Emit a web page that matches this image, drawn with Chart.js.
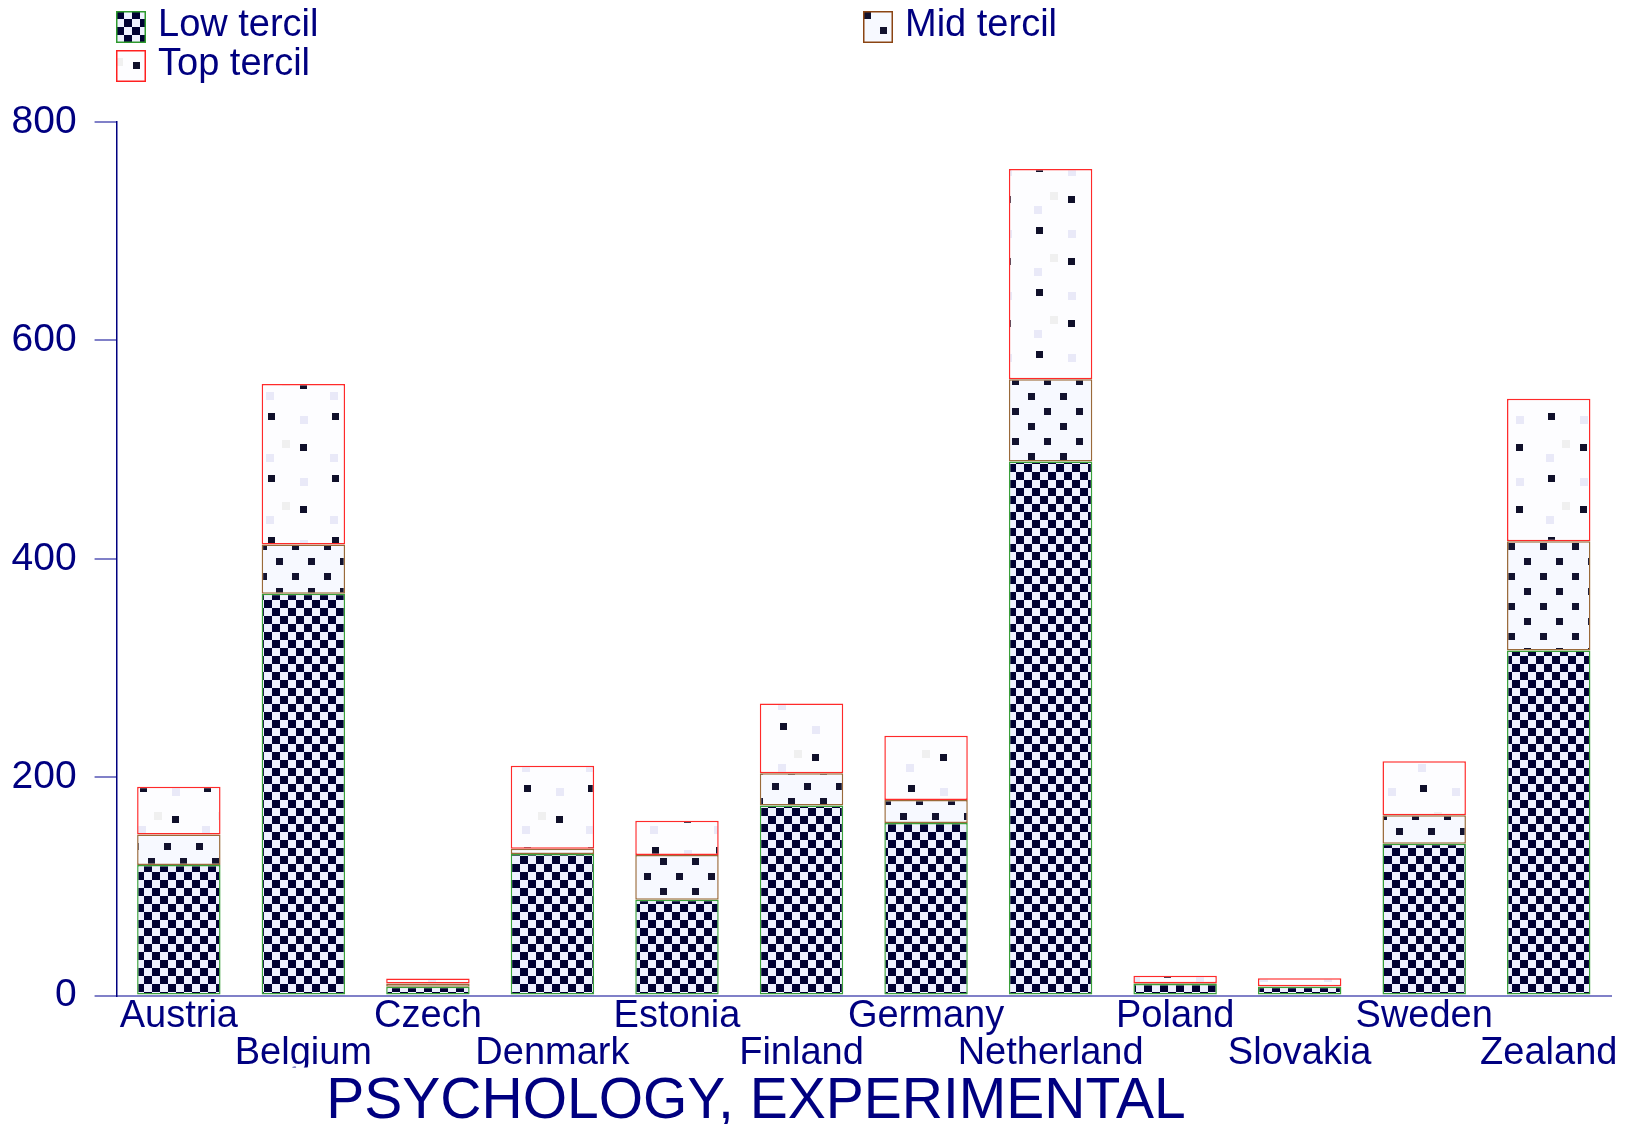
<!DOCTYPE html>
<html>
<head>
<meta charset="utf-8">
<script src="https://cdn.jsdelivr.net/npm/chart.js@4.4.1/dist/chart.umd.min.js"></script>
<style>
  html, body { margin: 0; padding: 0; background: #fff; }
  #wrap { width: 1631px; height: 1124px; }
</style>
</head>
<body>
<div id="wrap"><canvas id="chart"></canvas></div>
<script>
const categories = ['Austria', 'Belgium', 'Czech', 'Denmark', 'Estonia', 'Finland', 'Germany', 'Netherland', 'Poland', 'Slovakia', 'Sweden', 'Zealand'];
const lowTercil = [119.5, 368, 8, 129.5, 87.6, 174, 158, 489, 10.5, 8, 139, 316];
const midTercil = [28, 45, 3, 5, 41, 29.5, 21, 75.5, 0.7, 0.5, 26, 100];
const topTercil = [43.6, 147, 4.5, 76, 31.4, 64, 59, 192.5, 6.8, 7.3, 49.5, 130.5];
const yTicks = [0, 200, 400, 600, 800];
const chartTitle = 'PSYCHOLOGY, EXPERIMENTAL';

const navy = '#000080';
const font = 'Liberation Sans, Arial, sans-serif';

// fill patterns, built on small offscreen canvases
function makePattern(w, h, bg, draw) {
  const c = document.createElement('canvas');
  c.width = w; c.height = h;
  const g = c.getContext('2d');
  g.fillStyle = bg;
  g.fillRect(0, 0, w, h);
  draw(g);
  return document.getElementById('chart').getContext('2d').createPattern(c, 'repeat');
}

const lowFill = makePattern(16, 16, '#eef0ff', g => {
  g.fillStyle = '#000033';
  g.fillRect(0, 0, 8, 8);
  g.fillRect(8, 8, 8, 8);
});
const midFill = makePattern(32, 30, '#f7f9ff', g => {
  g.fillStyle = '#12122e';
  g.fillRect(4, 3, 7, 7);
  g.fillRect(20, 18, 7, 7);
});
const topFill = makePattern(64, 62, '#fdfdff', g => {
  g.fillStyle = '#e9e9f8';
  g.fillRect(10, 20, 8, 8);
  g.fillRect(44, 44, 8, 8);
  g.fillStyle = '#f0f0f0';
  g.fillRect(26, 6, 8, 8);
  g.fillStyle = '#10102a';
  g.fillRect(44, 10, 7, 7);
  g.fillRect(12, 41, 7, 7);
});

const legendItems = [
  { text: 'Low tercil', fill: lowFill, border: '#2e9a2e', x: 116, y: 11, ox: 0, oy: 0 },
  { text: 'Mid tercil', fill: midFill, border: '#8b4513', x: 863, y: 11, ox: 3, oy: 2 },
  { text: 'Top tercil', fill: topFill, border: '#ff2020', x: 116, y: 50, ox: 27, oy: -2 }
];

const legendAndTitle = {
  id: 'legendAndTitle',
  afterDraw(chart) {
    const ctx = chart.ctx;
    ctx.save();
    legendItems.forEach(it => {
      // shift the pattern so a dot shows inside the small box
      ctx.save();
      ctx.translate(it.x - it.ox, it.y - it.oy);
      ctx.fillStyle = it.fill;
      ctx.fillRect(it.ox, it.oy, 30, 32);
      ctx.restore();
      ctx.strokeStyle = it.border;
      ctx.lineWidth = 1.5;
      ctx.strokeRect(it.x + 0.75, it.y + 0.75, 28.5, 30.5);
      ctx.fillStyle = navy;
      ctx.font = '38px ' + font;
      ctx.textBaseline = 'alphabetic';
      ctx.textAlign = 'left';
      ctx.fillText(it.text, it.x + 42, it.y + 25);
    });
    ctx.font = '57px ' + font;
    ctx.textAlign = 'center';
    ctx.fillText(chartTitle, 756, 1118);
    ctx.restore();
  }
};

new Chart(document.getElementById('chart'), {
  type: 'bar',
  data: {
    labels: categories.map((c, i) => i % 2 ? ['', c] : [c, '']),
    datasets: [
      { label: 'Low tercil', data: lowTercil, backgroundColor: lowFill, borderColor: '#3aa03a' },
      { label: 'Mid tercil', data: midTercil, backgroundColor: midFill, borderColor: '#9a6a3a' },
      { label: 'Top tercil', data: topTercil, backgroundColor: topFill, borderColor: '#ff2a2a' }
    ].map(d => Object.assign(d, {
      borderWidth: 1.5,
      borderSkipped: false,
      categoryPercentage: 1,
      barPercentage: 0.67
    }))
  },
  options: {
    responsive: true,
    maintainAspectRatio: false,
    animation: false,
    devicePixelRatio: 1,
    layout: { padding: { left: -6.5, right: 20, top: 122, bottom: 56.5 } },
    plugins: {
      legend: { display: false },
      title: { display: false },
      tooltip: { enabled: false }
    },
    scales: {
      x: {
        stacked: true,
        grid: { display: false },
        border: { display: true, color: '#8080c8', width: 2 },
        ticks: {
          color: navy,
          font: { family: font, size: 38, lineHeight: '37px' },
          padding: -5,
          maxRotation: 0,
          autoSkip: false
        }
      },
      y: {
        stacked: true,
        min: 0,
        max: 800,
        afterBuildTicks: axis => { axis.ticks = yTicks.map(v => ({ value: v })); },
        grid: { drawOnChartArea: false, tickLength: 22, tickColor: '#8080c8', lineWidth: 2 },
        border: { display: true, color: navy, width: 1.5 },
        ticks: {
          color: navy,
          font: { family: font, size: 39 },
          padding: 18
        }
      }
    }
  },
  plugins: [legendAndTitle]
});
</script>
</body>
</html>
